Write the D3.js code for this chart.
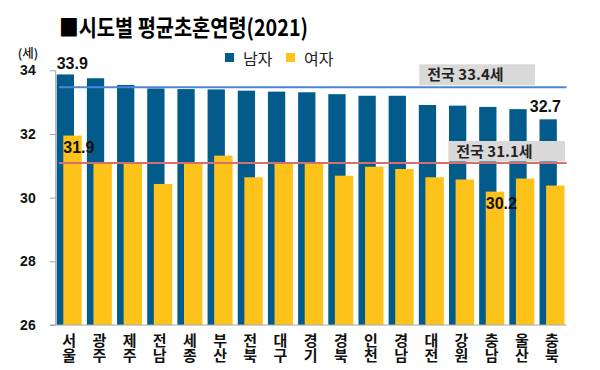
<!DOCTYPE html>
<html>
<head>
<meta charset="utf-8">
<script src="https://cdn.jsdelivr.net/npm/d3@7"></script>
<style>
  html, body { margin: 0; padding: 0; background: #fff; }
  svg { display: block; }
  text { font-family: "Noto Sans CJK KR", "Noto Sans", sans-serif; }
  .vlabel { writing-mode: vertical-rl; text-orientation: upright; }
</style>
</head>
<body>
<svg id="chart" width="600" height="370"></svg>
<script>
const categories = ["서울","광주","제주","전남","세종","부산","전북","대구","경기","경북","인천","경남","대전","강원","충남","울산","충북"];
const maleValues = [33.87, 33.75, 33.54, 33.43, 33.41, 33.40, 33.36, 33.33, 33.31, 33.25, 33.20, 33.20, 32.91, 32.89, 32.85, 32.78, 32.46];
const femaleValues = [31.95, 31.06, 31.11, 30.43, 31.11, 31.32, 30.64, 31.09, 31.09, 30.69, 30.97, 30.90, 30.64, 30.57, 30.19, 30.60, 30.38];
const yTicks = [26, 28, 30, 32, 34];
const seriesNames = ["남자", "여자"];
const nationalValues = [33.47, 31.09];
const nationalLabels = ["전국 33.4세", "전국 31.1세"];
const pointLabels = [
  { series: 0, cat: "서울", text: "33.9" },
  { series: 1, cat: "서울", text: "31.9" },
  { series: 1, cat: "충남", text: "30.2" },
  { series: 0, cat: "충북", text: "32.7" }
];
const title = "■시도별 평균초혼연령(2021)";
const unitLabel = "(세)";

const colors = ["#035b8c", "#fec31a"];
const lineColors = ["#4d86d4", "#d86f6f"];

const svg = d3.select("#chart");

const x = d3.scaleBand().domain(categories).range([56, 569]).padding(0);
const y = d3.scaleLinear().domain([26, 34]).range([325, 70.3]);

// title
svg.append("text")
  .attr("x", 59).attr("y", 36)
  .attr("font-size", 23).attr("font-weight", 700).attr("fill", "#000")
  .attr("textLength", 249).attr("lengthAdjust", "spacingAndGlyphs")
  .text(title);

// unit
svg.append("text")
  .attr("x", 28).attr("y", 58)
  .attr("text-anchor", "middle")
  .attr("font-size", 12.5).attr("font-weight", 500).attr("fill", "#111")
  .text(unitLabel);

// legend
const legendX = [225, 286];
seriesNames.forEach((n, i) => {
  svg.append("rect").attr("x", legendX[i]).attr("y", 53).attr("width", 9).attr("height", 9).attr("fill", colors[i]);
  svg.append("text").attr("x", legendX[i] + 18).attr("y", 65)
    .attr("font-size", 16).attr("fill", "#222").text(n);
});

// axes
const axisColor = "#a6a6a6";
const yAxis = d3.axisLeft(y).tickValues(yTicks).tickSize(6).tickFormat(d3.format("d"));
const gy = svg.append("g").attr("transform", "translate(55.7,0)").call(yAxis);
gy.select(".domain").attr("stroke", axisColor).attr("d", `M-0,${y(34)}V${y(26)}`);
gy.selectAll(".tick line").attr("stroke", axisColor);
gy.selectAll(".tick text")
  .attr("x", -20).attr("font-size", 14).attr("font-weight", 700).attr("fill", "#111")
  .style("font-family", "'Liberation Sans', Arial, sans-serif");

// bars
const blueOff = 0.7, blueW = 17.3, yelOff = 7.3, yelW = 18.4;
svg.append("g").selectAll("rect").data(categories).join("rect")
  .attr("x", (d) => x(d) + blueOff)
  .attr("y", (d, i) => y(maleValues[i]))
  .attr("width", blueW)
  .attr("height", (d, i) => y(26) - y(maleValues[i]))
  .attr("fill", colors[0]);
svg.append("g").selectAll("rect").data(categories).join("rect")
  .attr("x", (d) => x(d) + yelOff)
  .attr("y", (d, i) => y(femaleValues[i]))
  .attr("width", yelW)
  .attr("height", (d, i) => y(26) - y(femaleValues[i]))
  .attr("fill", colors[1]);

// x baseline
svg.append("line").attr("x1", 50).attr("x2", 566.5).attr("y1", y(26)).attr("y2", y(26))
  .attr("stroke", axisColor).attr("stroke-width", 1);

// category labels (stacked vertically)
svg.append("g").selectAll("text").data(categories).join("text")
  .attr("class", "vlabel")
  .attr("x", (c) => x(c) + blueOff + (yelOff + yelW - blueOff) / 2)
  .attr("y", 333)
  .attr("font-size", 15).attr("font-weight", 700).attr("fill", "#111")
  .text((c) => c);

// national lines
nationalValues.forEach((v, i) => {
  svg.append("line").attr("x1", 59).attr("x2", 566.5).attr("y1", y(v)).attr("y2", y(v))
    .attr("stroke", lineColors[i]).attr("stroke-width", 2);
});

// national label boxes
const boxes = [
  { x0: 419.3, x1: 535, y0: 64.3, y1: 85.3 },
  { x0: 448.3, x1: 565, y0: 141, y1: 161.5 }
];
boxes.forEach((b, i) => {
  svg.append("rect").attr("x", b.x0).attr("y", b.y0).attr("width", b.x1 - b.x0).attr("height", b.y1 - b.y0)
    .attr("fill", "#d9d9d9");
  svg.append("text").attr("x", b.x0 + 8).attr("y", b.y1 - 5)
    .attr("font-size", 15).attr("font-weight", 700).attr("fill", "#222")
    .text(nationalLabels[i]);
});

// point labels
pointLabels.forEach((p) => {
  const idx = categories.indexOf(p.cat);
  const val = p.series === 0 ? maleValues[idx] : femaleValues[idx];
  let tx, ty;
  if (p.series === 0) {
    tx = p.cat === "충북" ? x(p.cat) - 9 : x(p.cat) + blueOff;
    ty = p.cat === "충북" ? y(val) - 7 : y(val) - 5;
  } else {
    tx = x(p.cat) + yelOff;
    ty = y(val) + 17.5;
  }
  svg.append("text").attr("x", tx).attr("y", ty)
    .attr("font-size", 16).attr("font-weight", 700).attr("fill", "#111")
    .style("font-family", "'Liberation Sans', Arial, sans-serif")
    .text(p.text);
});
</script>
</body>
</html>
